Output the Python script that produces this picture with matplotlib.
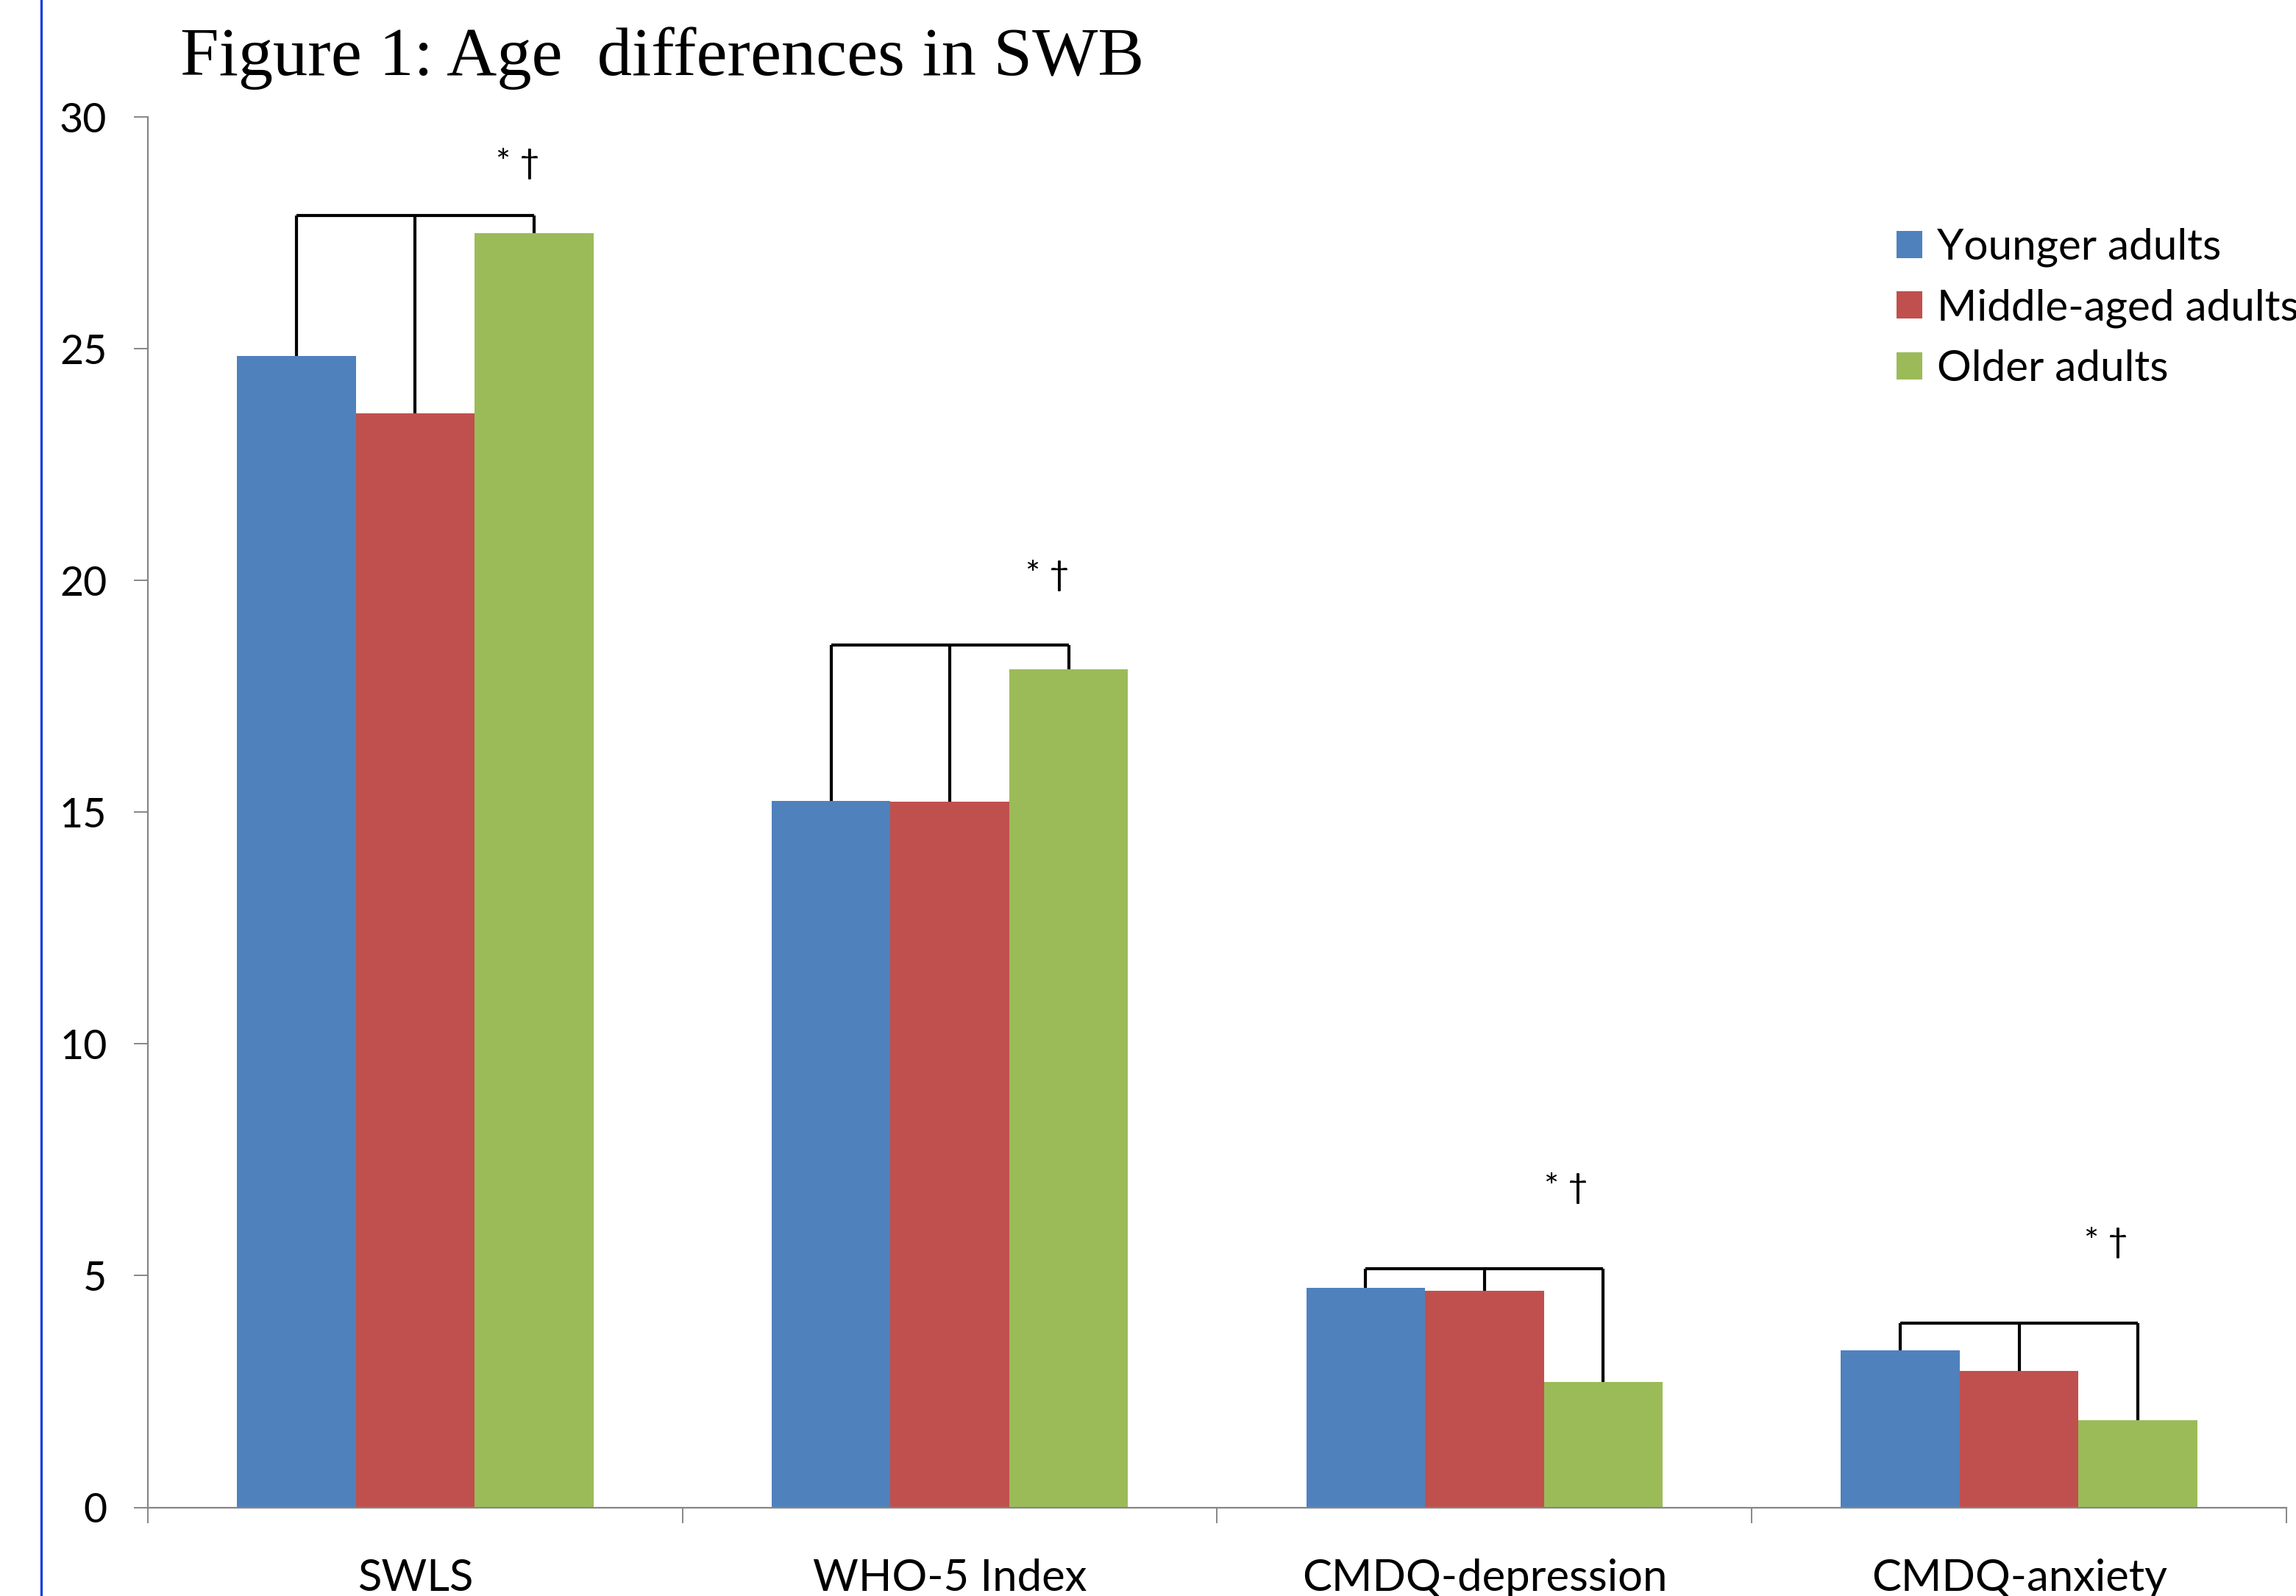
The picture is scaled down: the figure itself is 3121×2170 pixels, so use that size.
import matplotlib
matplotlib.use("Agg")
import matplotlib.pyplot as plt
from matplotlib.patches import Patch
from matplotlib.lines import Line2D
import numpy as np

categories = ["SWLS", "WHO-5 Index", "CMDQ-depression", "CMDQ-anxiety"]
series_names = ["Younger adults", "Middle-aged adults", "Older adults"]
younger = [24.85, 15.24, 4.73, 3.39]
middle = [23.61, 15.22, 4.67, 2.95]
older = [27.50, 18.08, 2.70, 1.88]
bracket_top = [27.88, 18.60, 5.15, 3.97]
star_y = [29.0, 20.1, 6.88, 5.71]
star_label = "* \u2020"
y_ticks = [0, 5, 10, 15, 20, 25, 30]
colors = ["#4F81BD", "#C0504D", "#9BBB59"]

W, H = 3121, 2170
DPI = 200
fig = plt.figure(figsize=(W / DPI, H / DPI), dpi=DPI)
ax = fig.add_axes([201 / W, 1 - 2049.5 / H, (3108 - 201) / W, (2049.5 - 159) / H])

x = np.arange(len(categories))
bw = 0.2222
series = [younger, middle, older]
for i, (vals, c, name) in enumerate(zip(series, colors, series_names)):
    ax.bar(x + (i - 1) * bw, vals, width=bw, color=c, label=name, zorder=2)

# significance brackets
for g in range(len(categories)):
    top = bracket_top[g]
    xs = [x[g] - bw, x[g], x[g] + bw]
    tops = [younger[g], middle[g], older[g]]
    ax.plot([xs[0], xs[2]], [top, top], color="black", lw=1.5, solid_capstyle="butt", zorder=3)
    for xx, tt in zip(xs, tops):
        ax.plot([xx, xx], [tt, top], color="black", lw=1.5, solid_capstyle="butt", zorder=3)

star_dx = [-0.03, -0.04, -0.07, -0.06]
for g in range(len(categories)):
    ax.text(x[g] + bw + star_dx[g], star_y[g], star_label, ha="center", va="center",
            fontsize=17, family=["Lato", "DejaVu Sans"], color="black")

ax.set_xlim(-0.5, len(categories) - 0.5)
ax.set_ylim(0, 30)
ax.set_yticks(y_ticks)
ax.set_yticklabels([str(v) for v in y_ticks], family="Lato", fontsize=20)
ax.set_xticks(x)
ax.set_xticklabels(categories, family="Lato", fontsize=21.5)
ax.set_xticks(np.arange(-0.5, len(categories), 1.0), minor=True)
ax.tick_params(axis="x", which="major", length=0, pad=25)
ax.tick_params(axis="x", which="minor", length=7.5, width=0.7, color="#868686", direction="out")
ax.tick_params(axis="y", length=7, width=0.7, color="#868686", direction="out", pad=13)
for s in ["top", "right"]:
    ax.spines[s].set_visible(False)
for s in ["left", "bottom"]:
    ax.spines[s].set_color("#868686")
    ax.spines[s].set_linewidth(0.8)
ax.spines["bottom"].set_zorder(4)

handles = [Patch(facecolor=c, edgecolor="none") for c in colors]
fig.legend(handles, series_names, loc="center left", bbox_to_anchor=(2578 / W, 1 - 418.8 / H),
           frameon=False, prop={"family": "Lato", "size": 21}, handlelength=0.6, handleheight=0.6,
           handletextpad=0.34, labelspacing=0.5, borderpad=0, borderaxespad=0)

fig.text(245 / W, 1 - 102 / H, "Figure 1: Age  differences in SWB", family="Liberation Serif",
         fontsize=34, ha="left", va="baseline")

fig.add_artist(Line2D([56 / W, 56 / W], [0, 1], transform=fig.transFigure, color="#1a3fe0", lw=1.2))

fig.savefig("out.png", dpi=DPI)
